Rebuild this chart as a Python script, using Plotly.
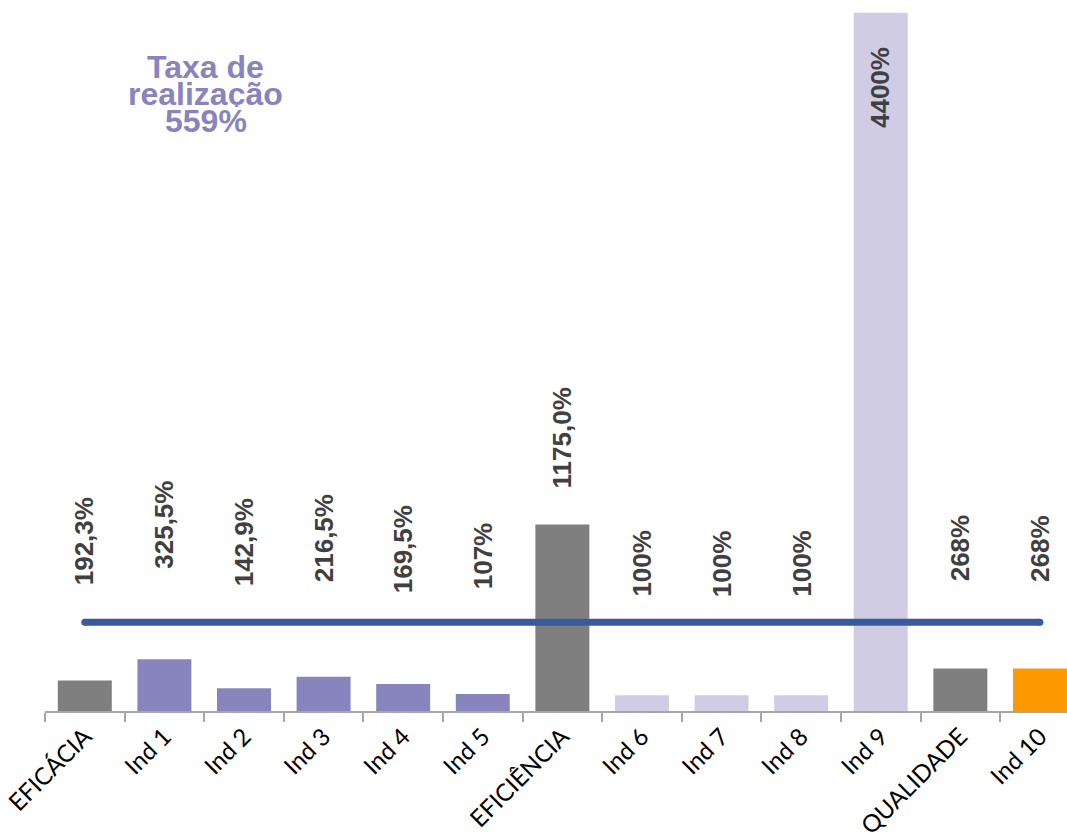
import plotly.graph_objects as go

# Categories and realisation rates (%)
categories = ["EFICÁCIA", "Ind 1", "Ind 2", "Ind 3", "Ind 4", "Ind 5", "EFICIÊNCIA",
              "Ind 6", "Ind 7", "Ind 8", "Ind 9", "QUALIDADE", "Ind 10"]
values = [192.3, 325.5, 142.9, 216.5, 169.5, 107, 1175.0, 100, 100, 100, 4400, 268, 268]
value_labels = ["192,3%", "325,5%", "142,9%", "216,5%", "169,5%", "107%", "1175,0%",
                "100%", "100%", "100%", "4400%", "268%", "268%"]
overall_rate = 559
overall_lines = ["Taxa de", "realização", "559%"]

# Styling (kept apart from the data)
GREY = "#7f7f7f"
PURPLE = "#8884bd"
LAVENDER = "#cfcce4"
ORANGE = "#ff9900"
bar_colors = [GREY, PURPLE, PURPLE, PURPLE, PURPLE, PURPLE, GREY,
              LAVENDER, LAVENDER, LAVENDER, LAVENDER, GREY, ORANGE]
# pixel gap between bar top and its rotated label (negative = inside the bar)
label_gap = [93, 89, 100, 92, 89, 103, 34, 97, 96, 96, -32, 85, 85]

fig = go.Figure()
fig.add_trace(go.Bar(
    x=categories, y=values, marker=dict(color=bar_colors, line=dict(width=0)),
    hoverinfo="skip", showlegend=False,
))

# overall realisation rate line
fig.add_trace(go.Scatter(
    x=[categories[0], categories[-1]], y=[overall_rate, overall_rate],
    mode="lines+markers", line=dict(color="#3a5b9b", width=7),
    marker=dict(color="#3a5b9b", size=7), hoverinfo="skip", showlegend=False,
    cliponaxis=False,
))

annotations = []
for cat, v, txt, gap in zip(categories, values, value_labels, label_gap):
    annotations.append(dict(
        x=cat, y=v, xref="x", yref="y", text=txt, showarrow=False, textangle=-90,
        yanchor="bottom" if gap >= 0 else "top", yshift=gap, xanchor="center",
        font=dict(family="Liberation Sans, Arial", size=26, color="#404040", weight="bold"),
    ))

# three tightly stacked lines of the overall-rate caption
for line, ypos in zip(overall_lines, [0.922, 0.883, 0.844]):
    annotations.append(dict(
        x=0.1575, y=ypos, xref="paper", yref="paper", text=line, showarrow=False,
        xanchor="center", yanchor="middle", height=26, valign="middle",
        font=dict(family="Liberation Sans, Arial", size=32, color=PURPLE, weight="bold"),
    ))

fig.update_layout(
    width=1067, height=839,
    margin=dict(l=45, r=0, t=12, b=124),
    paper_bgcolor="white", plot_bgcolor="white",
    bargap=0.322,
    annotations=annotations,
    xaxis=dict(
        type="category", range=[-0.5, 12.34], tickson="boundaries",
        ticks="outside", ticklen=9, tickwidth=1.5, tickcolor="#a6a6a6",
        showline=True, linecolor="#a6a6a6", linewidth=2,
        tickangle=-45, tickfont=dict(family="Lato, Carlito, Calibri", size=24, color="black"),
        showgrid=False, zeroline=False,
    ),
    yaxis=dict(
        range=[0, 4405], showticklabels=False, showgrid=False, zeroline=False,
        showline=False, ticks="",
    ),
)

fig.write_html("out.html")
